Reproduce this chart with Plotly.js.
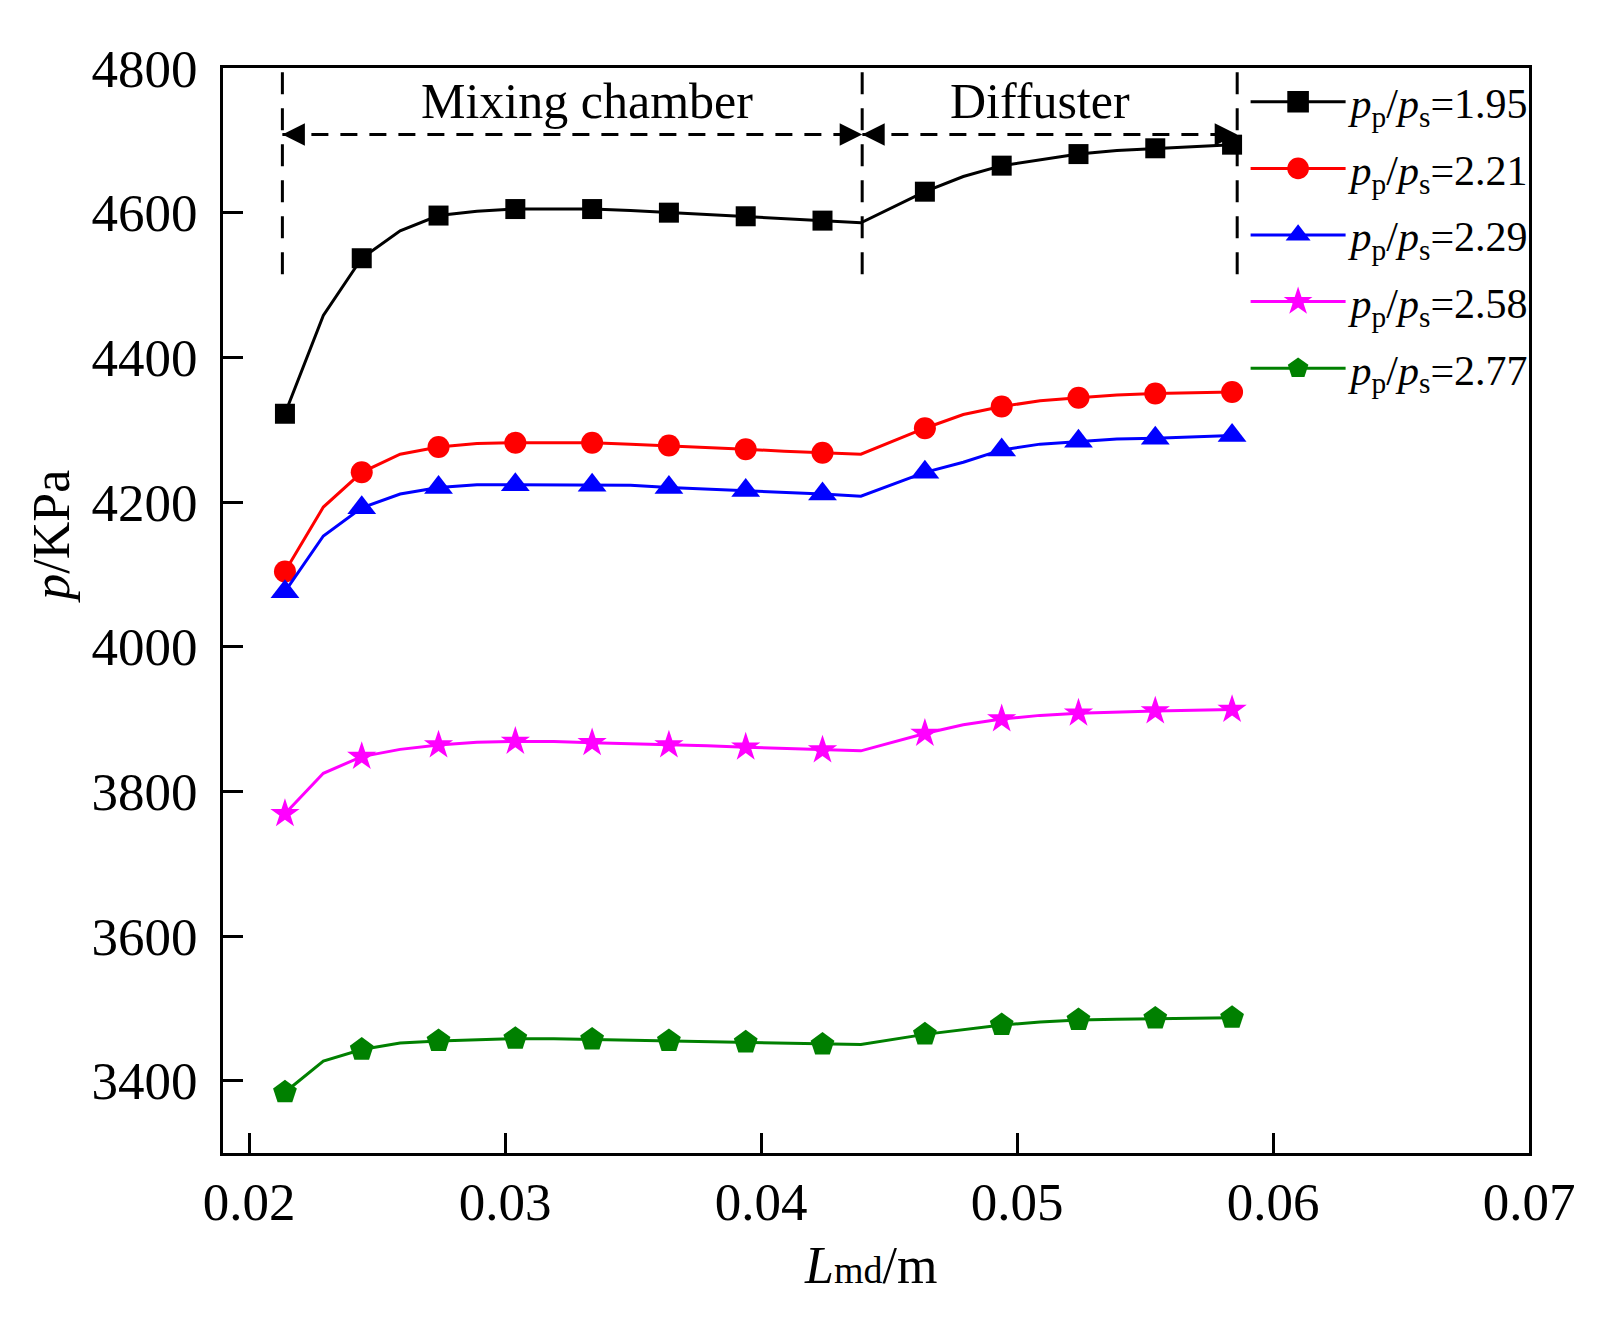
<!DOCTYPE html>
<html>
<head>
<meta charset="utf-8">
<script src="https://cdn.plot.ly/plotly-3.0.1.min.js"></script>
<style>
  html, body { margin: 0; padding: 0; background: #fff; }
  #chart { width: 1620px; height: 1320px; }
</style>
</head>
<body>
<div id="chart"></div>
<script>
// positions along the mixing chamber + diffuser (m)
const lmd = [0.0214, 0.0229, 0.0244, 0.0259, 0.0274, 0.0289, 0.0304, 0.0319, 0.0334, 0.0349,
  0.0364, 0.0379, 0.0394, 0.0409, 0.0424, 0.0439, 0.0464, 0.0479, 0.0494, 0.0509,
  0.0524, 0.0539, 0.0554, 0.0569, 0.0584];

// pressure (kPa) for each pressure ratio
const p195 = [4322, 4458, 4537, 4575, 4596, 4602, 4605, 4605, 4605, 4603,
  4600, 4598, 4595, 4592, 4589, 4586, 4629, 4650, 4665, 4673,
  4681, 4686, 4689, 4691, 4694];
const p221 = [4104, 4193, 4241, 4266, 4276, 4281, 4282, 4282, 4282, 4280,
  4278, 4276, 4273, 4270, 4268, 4266, 4302, 4321, 4332, 4340,
  4344, 4348, 4350, 4351, 4352];
const p229 = [4076, 4153, 4192, 4211, 4220, 4224, 4224, 4224, 4223, 4223,
  4220, 4218, 4216, 4213, 4211, 4208, 4241, 4255, 4272, 4280,
  4284, 4287, 4288, 4290, 4292];
const p258 = [3769, 3825, 3848, 3858, 3864, 3868, 3869, 3869, 3867, 3866,
  3864, 3863, 3861, 3859, 3857, 3856, 3880, 3892, 3900, 3905,
  3908, 3910, 3911, 3912, 3913];
const p277 = [3384, 3427, 3443, 3452, 3455, 3457, 3458, 3458, 3457, 3456,
  3455, 3454, 3453, 3451, 3450, 3450, 3464, 3471, 3477, 3481,
  3484, 3485, 3486, 3486, 3487];

const ratios = ['1.95', '2.21', '2.29', '2.58', '2.77'];
const seriesValues = [p195, p221, p229, p258, p277];

// section borders: mixing chamber start, diffuser start, diffuser end
const sectionBounds = [0.0213, 0.04395, 0.0586];
const sectionNames = ['Mixing chamber', 'Diffuster'];

const xTicks = [0.02, 0.03, 0.04, 0.05, 0.06, 0.07];
const yTicks = [3400, 3600, 3800, 4000, 4200, 4400, 4600, 4800];

const FONT = "'Liberation Serif', 'Times New Roman', serif";
const colors = ['#000000', '#ff0000', '#0000ff', '#ff00ff', '#008000'];
const symbols = ['square', 'circle', 'triangle-up', 'star', 'pentagon'];
const msizes = [20, 22, 25, 22, 25];

// only every second point carries a symbol, the rest just shape the line
const traces = seriesValues.map((vals, k) => ({
  x: lmd,
  y: vals,
  type: 'scatter',
  mode: 'lines+markers',
  name: '<i>p</i><sub>p</sub>/<i>p</i><sub>s</sub>=' + ratios[k],
  legendgroup: 'g' + k,
  line: { color: colors[k], width: 3 },
  marker: {
    symbol: symbols[k],
    size: msizes[k],
    color: lmd.map((_, i) => i % 2 === 0 ? colors[k] : 'rgba(0,0,0,0)'),
    line: { width: 0 }
  }
}));

const dashTop = 4515;
const arrowY = 4708;

const shapes = sectionBounds.map(b => ({
  type: 'line', xref: 'x', yref: 'y',
  x0: b, x1: b, y0: dashTop, y1: 4800,
  line: { color: '#000', width: 3, dash: '22px,14px' }
}));
shapes.push({
  type: 'line', xref: 'x', yref: 'y',
  x0: sectionBounds[0], x1: sectionBounds[2], y0: arrowY, y1: arrowY,
  line: { color: '#000', width: 3, dash: '17px,12px' }
});

function arrowHead(x, dir) {
  return {
    x: x, y: arrowY, xref: 'x', yref: 'y',
    ax: -dir * 22, ay: 0,
    text: ' ', showarrow: true,
    arrowhead: 2, arrowsize: 1.5, arrowwidth: 3, arrowcolor: '#000',
    standoff: 0
  };
}

const annotations = [
  arrowHead(sectionBounds[0], -1),
  arrowHead(sectionBounds[1], 1),
  arrowHead(sectionBounds[1], -1),
  arrowHead(sectionBounds[2], 1),
  {
    x: 0.0332, y: 4754, xref: 'x', yref: 'y', showarrow: false,
    text: sectionNames[0], font: { family: FONT, size: 50, color: '#000' }
  },
  {
    x: 0.0509, y: 4754, xref: 'x', yref: 'y', showarrow: false,
    text: sectionNames[1], font: { family: FONT, size: 50, color: '#000' }
  },
  {
    x: -0.131, y: 0.568, xref: 'paper', yref: 'paper', showarrow: false,
    xanchor: 'center', yanchor: 'middle', textangle: -90,
    text: '<i>p</i>/KPa', font: { family: FONT, size: 52, color: '#000' }
  },
  {
    x: 0.496, y: -0.104, xref: 'paper', yref: 'paper', showarrow: false,
    xanchor: 'center', yanchor: 'middle',
    text: '<i>L</i><span style="font-size:38px">md</span>/m',
    font: { family: FONT, size: 52, color: '#000' }
  }
];

const axisBase = {
  showline: true, mirror: true, linewidth: 3, linecolor: '#000',
  ticks: 'inside', ticklen: 20, tickwidth: 3, tickcolor: '#000',
  showgrid: false, zeroline: false,
  tickfont: { family: FONT, size: 53, color: '#000' }
};

const layout = {
  width: 1620, height: 1320,
  margin: { l: 223, r: 91, t: 68, b: 167 },
  paper_bgcolor: '#fff', plot_bgcolor: '#fff',
  font: { family: FONT, color: '#000' },
  xaxis: Object.assign({}, axisBase, {
    range: [0.01898, 0.07], tickvals: xTicks, ticktext: xTicks.map(v => v.toFixed(2)),
    ticklabelstandoff: 0
  }),
  yaxis: Object.assign({}, axisBase, {
    range: [3300, 4800], tickvals: yTicks, ticktext: yTicks.map(String),
    ticklabelstandoff: 12
  }),
  showlegend: true,
  legend: {
    x: 0.783, y: 1.0, xanchor: 'left', yanchor: 'top',
    bgcolor: 'rgba(0,0,0,0)', borderwidth: 0,
    font: { family: FONT, size: 42, color: '#000' },
    itemwidth: 95, tracegroupgap: 9
  },
  shapes: shapes,
  annotations: annotations
};

Plotly.newPlot('chart', traces, layout, { displayModeBar: false, staticPlot: true }).then(() => {
  // legend symbols are capped small by plotly; bring them up to the plot's symbol size
  document.querySelectorAll('.legend .legendpoints path').forEach(p => {
    const t = p.getAttribute('transform') || '';
    p.setAttribute('transform', t + ' scale(1.35)');
  });
});
</script>
</body>
</html>
